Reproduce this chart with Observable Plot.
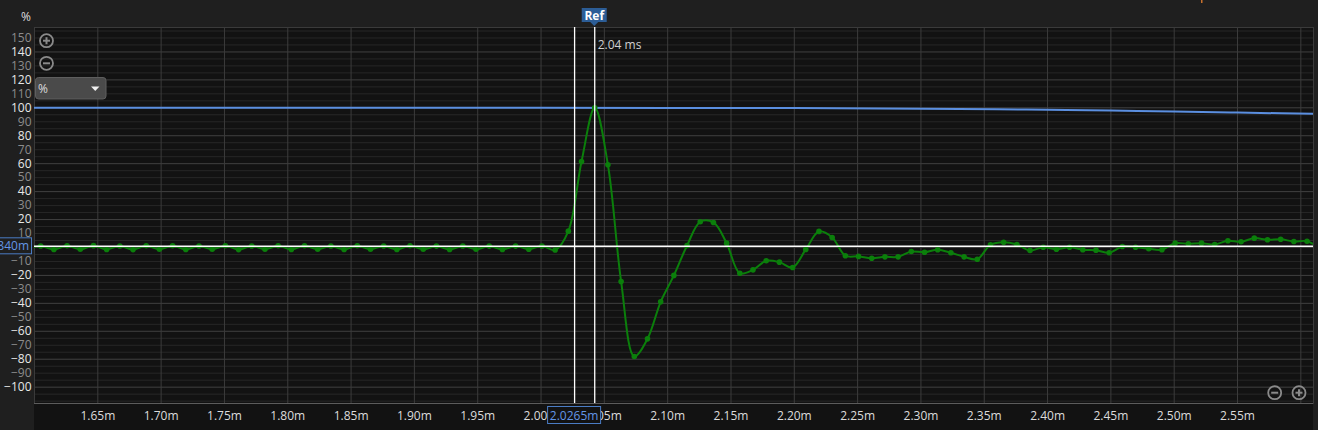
<!DOCTYPE html>
<html><head><meta charset="utf-8">
<script src="https://cdn.jsdelivr.net/npm/d3@7"></script>
<script src="https://cdn.jsdelivr.net/npm/@observablehq/plot@0.6"></script>
<style>
html,body{margin:0;padding:0;background:#1f1f1f;overflow:hidden}
#chart svg{display:block}
</style></head><body><div id="chart"></div>
<script>
// ---- data ----
const sampleRateKHz = 96;           // samples per ms
const peakTimeMs = 2.0424;          // time of sample index 0
const firstSampleIndex = -43;
// impulse response samples (%), index -43 .. 55
const impulseValues = [
  -1.2, 1.1, -1.4, 1.2, -1.3, 1.3, -1.4, 1.1, -1.5, 1.2,
  -1.3, 1.2, -1.4, 1.1, -1.3, 1.2, -1.5, 1.1, -1.3, 1.2,
  -1.4, 1.2, -1.3, 1.1, -1.4, 1.2, -1.3, 1.1, -1.4, 1.2,
  -1.3, 1.0, -1.4, 1.1, -1.3, 1.0, -1.4, 1.0, -1.2, 1.1,
  -1.8,
  11.7, 61.6, 100, 59.2, -24.3, -78.0, -65.4, -38.9, -20.0, 1.4,
  18.4, 17.9, 3.1, -18.4, -16.0, -9.5, -10.5, -14.3, -1.4, 11.5,
  7.2, -5.9, -6.4, -7.7, -6.7, -6.7, -2.9, -3.4, -1.6, -3.8,
  -6.7, -8.4, 1.9, 3.8, 2.1, -2.1, 0.2, -1.2, 0.2, -1.6,
  -1.9, -3.8, 0.7, 0.2, -0.9, -1.6, 3.1, 2.6, 3.1, 2.1,
  4.8, 4.1, 6.7, 5.5, 5.9, 4.3, 4.5, -1.0
];
// step response (blue), %
const stepTimes  = [1.60, 2.00, 2.10, 2.20, 2.30, 2.36, 2.40, 2.45, 2.50, 2.55, 2.61];
const stepValues = [100, 100, 99.95, 99.8, 99.4, 99.0, 98.6, 98.0, 97.4, 96.6, 95.7];

const xTickValues = [1.65,1.70,1.75,1.80,1.85,1.90,1.95,2.00,2.05,2.10,2.15,2.20,2.25,2.30,2.35,2.40,2.45,2.50,2.55];
const xGridValues = [1.60,1.65,1.70,1.75,1.80,1.85,1.90,1.95,2.00,2.05,2.10,2.15,2.20,2.25,2.30,2.35,2.40,2.45,2.50,2.55,2.60];
// the 0 label is hidden under the level cursor box in the reference
const yBrightTicks = [140,120,100,80,60,40,20,-20,-40,-60,-80,-100];
const yDimTicks = [150,130,110,90,70,50,30,10,-10,-30,-50,-70,-90];
const yMajorGrid = [140,120,100,80,60,40,20,0,-20,-40,-60,-80,-100];
const yMinorGrid = [155,150,145,135,130,125,115,110,105,95,90,85,75,70,65,55,50,45,35,30,25,15,10,5,-5,-10,-15,-25,-30,-35,-45,-50,-55,-65,-70,-75,-85,-90,-95,-105,-110];

const refTimeMs = 2.0424;
const refLabel = "Ref";
const refText = "2.04 ms";
const cursorTimeMs = 2.0265;
const cursorText = "2.0265m";
const cursorLevel = 0.84;
const cursorLevelText = "0.840m";
const unitText = "%";

const impulse = impulseValues.map((v, i) => ({t: peakTimeMs + (firstSampleIndex + i) / sampleRateKHz, v}));
const step = stepTimes.map((t, i) => ({t, v: stepValues[i]}));

const FONT = "'Open Sans', 'Noto Sans', sans-serif";
const GREEN = "#0b7f0b";
const BLUE = "#5b8fe0";

const chart = Plot.plot({
  width: 1318, height: 430,
  marginLeft: 34, marginRight: 5, marginTop: 27, marginBottom: 27,
  style: {background: "#1f1f1f", fontFamily: FONT, color: "#dcdcdc"},
  x: {domain: [1.6, 2.61]},
  y: {domain: [-111.7, 157.5]},
  marks: [
    Plot.frame({fill: "#121212", stroke: null}),
    Plot.ruleY(yMinorGrid, {stroke: "#272727", strokeWidth: 1}),
    Plot.ruleY(yMajorGrid, {stroke: "#404040", strokeWidth: 1}),
    Plot.ruleX(xGridValues, {stroke: "#3c3c3c", strokeWidth: 1}),
    Plot.frame({stroke: "#3a3a3a"}),
    Plot.ruleY([-111.7], {stroke: "#5c5c5c"}),
    Plot.line(step, {x: "t", y: "v", stroke: BLUE, strokeWidth: 2, curve: "monotone-x", clip: true}),
    Plot.line(impulse, {x: "t", y: "v", stroke: GREEN, strokeWidth: 2, curve: "catmull-rom", clip: true}),
    Plot.dot(impulse, {x: "t", y: "v", r: 2.8, fill: GREEN, stroke: null, clip: true}),
    Plot.ruleX([cursorTimeMs], {stroke: "#ffffff", strokeWidth: 1.3}),
    Plot.ruleX([refTimeMs], {stroke: "#ffffff", strokeWidth: 1.3}),
    Plot.ruleY([cursorLevel], {stroke: "#ffffff", strokeWidth: 1.5}),
    Plot.axisY(yBrightTicks, {tickSize: 0, tickPadding: 3, fontSize: 12, color: "#e8e8e8", label: null}),
    Plot.axisY(yDimTicks, {tickSize: 0, tickPadding: 3, fontSize: 12, color: "#8c8c8c", label: null}),
    Plot.axisX(xTickValues, {tickSize: 0, tickPadding: 8, fontSize: 12, color: "#dcdcdc", label: null,
      tickFormat: d => d.toFixed(2) + "m"}),
    Plot.text([refTimeMs], {x: d => d, frameAnchor: "top", dy: 13, dx: 3, textAnchor: "start",
      text: () => refText, fill: "#cfcfcf", fontSize: 12})
  ]
});
document.getElementById("chart").appendChild(chart);

// ---- UI chrome drawn with the plot's scales ----
const svg = d3.select(chart);
const X = v => chart.scale("x").apply(v);
const Y = v => chart.scale("y").apply(v);
const x0 = X(1.6), x1 = X(2.61), yb = Y(-111.7);

// dark band behind x tick labels
const styleEl = chart.querySelector("style");
const band = document.createElementNS("http://www.w3.org/2000/svg", "rect");
band.setAttribute("x", x0); band.setAttribute("y", yb);
band.setAttribute("width", x1 - x0); band.setAttribute("height", 430 - yb);
band.setAttribute("fill", "#121212");
chart.insertBefore(band, styleEl ? styleEl.nextSibling : chart.firstChild);

const ui = svg.append("g").attr("font-family", FONT);

// unit label
ui.append("text").attr("x", 26).attr("y", 16).attr("text-anchor", "middle").attr("dominant-baseline", "central")
  .attr("font-size", 12).attr("fill", "#dddddd").text(unitText);

// zoom buttons
function button(cx, cy, plus) {
  const g = ui.append("g").attr("stroke", "#8a8a8a").attr("fill", "none");
  g.append("circle").attr("cx", cx).attr("cy", cy).attr("r", 6.5).attr("stroke-width", 1.8);
  g.append("line").attr("x1", cx - 3.5).attr("x2", cx + 3.5).attr("y1", cy).attr("y2", cy).attr("stroke-width", 2);
  if (plus) g.append("line").attr("x1", cx).attr("x2", cx).attr("y1", cy - 3.5).attr("y2", cy + 3.5).attr("stroke-width", 2);
}
button(46.5, 40.7, true);
button(46.5, 63.3, false);
button(1274.7, 392.7, false);
button(1299, 392.7, true);

// dropdown
ui.append("rect").attr("x", 35.5).attr("y", 77.5).attr("width", 70.5).attr("height", 21.5).attr("rx", 3)
  .attr("fill", "#4a4a4a").attr("stroke", "#5e5e5e");
ui.append("text").attr("x", 43).attr("y", 88.5).attr("dominant-baseline", "central")
  .attr("font-size", 12).attr("fill", "#dddddd").text(unitText);
ui.append("path").attr("d", "M91,86.5 L99.5,86.5 L95.25,91 Z").attr("fill", "#f0f0f0");

// Ref marker
const rx = X(refTimeMs);
ui.append("rect").attr("x", rx - 12.5).attr("y", 8).attr("width", 25).attr("height", 14).attr("fill", "#2c5d96");
ui.append("path").attr("d", `M${rx - 4},22 L${rx + 4},22 L${rx},26 Z`).attr("fill", "#2c5d96");
ui.append("text").attr("x", rx).attr("y", 15.5).attr("text-anchor", "middle").attr("dominant-baseline", "central")
  .attr("font-size", 12).attr("font-weight", "bold").attr("fill", "#ffffff").text(refLabel);

// x cursor box
const cx = X(cursorTimeMs);
ui.append("rect").attr("x", cx - 26.5).attr("y", 406.5).attr("width", 53).attr("height", 17)
  .attr("fill", "#121212").attr("stroke", "#4a7cc4");
ui.append("text").attr("x", cx).attr("y", 415).attr("text-anchor", "middle").attr("dominant-baseline", "central")
  .attr("font-size", 12).attr("fill", "#6396e6").text(cursorText);

// y cursor box
const cy = Y(cursorLevel);
ui.append("rect").attr("x", -20).attr("y", cy - 8).attr("width", 51.5).attr("height", 16)
  .attr("fill", "#1f1f1f").attr("stroke", "#4a7cc4");
ui.append("text").attr("x", 29).attr("y", cy).attr("text-anchor", "end").attr("dominant-baseline", "central")
  .attr("font-size", 12).attr("fill", "#6396e6").text(cursorLevelText);

// small orange marker at top
ui.append("rect").attr("x", 1201).attr("y", 0).attr("width", 1.5).attr("height", 3).attr("fill", "#c8702c");
</script></body></html>
